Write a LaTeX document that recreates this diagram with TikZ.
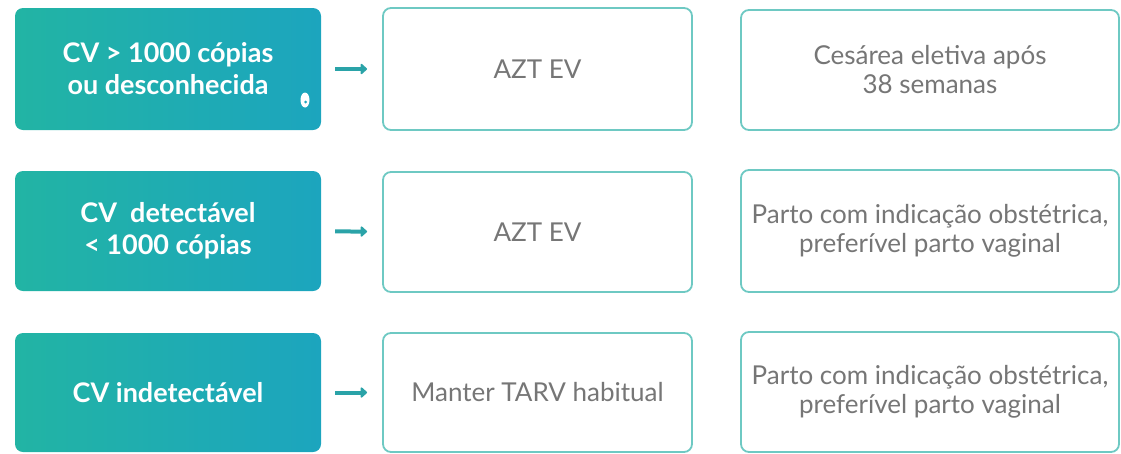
\documentclass[tikz,border=0pt]{standalone}
\usepackage{fontspec}
\setmainfont{Lato}
\usetikzlibrary{arrows.meta}
\definecolor{tealL}{HTML}{22B4A4}
\definecolor{tealR}{HTML}{1CA5BE}
\definecolor{boxline}{HTML}{6EC9C3}
\definecolor{txtgray}{HTML}{767676}
\definecolor{arrowc}{HTML}{2AA3A8}
\tikzset{
  condbox/.style={rounded corners=8pt, left color=tealL, right color=tealR,
    minimum width=306pt, minimum height=#1, inner sep=0pt, text=white,
    font=\fontsize{27}{32}\selectfont\bfseries, align=center},
  actbox/.style={rounded corners=8pt, draw=boxline, line width=1.8pt, fill=white,
    minimum height=#1, inner sep=0pt, text=txtgray,
    font=\fontsize{26}{29}\selectfont, align=center},
  flowarrow/.style={draw=arrowc, line width=4pt, -{Triangle[length=7pt,width=12pt,round]},
    shorten <=14pt, shorten >=15pt}
}
\begin{document}
\begin{tikzpicture}[x=1pt,y=-1pt]
\useasboundingbox (0,0) rectangle (1121,453);
% row 1
\node[condbox=122pt] (l1) at (168,69) {CV > 1000 cópias\\ou desconhecida};
\node[actbox=122pt, minimum width=309pt] (m1) at (537.5,69) {AZT EV};
\node[actbox=120pt, minimum width=378pt] (r1) at (930,70) {Cesárea eletiva após\\38 semanas};
% row 2
\node[condbox=120pt] (l2) at (168,231) {CV\ \ detectável\\< 1000 cópias};
\node[actbox=120pt, minimum width=309pt] (m2) at (537.5,232) {AZT EV};
\node[actbox=122pt, minimum width=378pt] (r2) at (930,231) {Parto com indicação obstétrica,\\preferível parto vaginal};
% row 3
\node[condbox=119pt] (l3) at (168,392.5) {CV indetectável};
\node[actbox=119pt, minimum width=309pt] (m3) at (537.5,392.5) {Manter TARV habitual};
\node[actbox=120pt, minimum width=378pt] (r3) at (930,392) {Parto com indicação obstétrica,\\preferível parto vaginal};
% arrows
\draw[flowarrow] (l1) -- (m1);
\draw[flowarrow] (l2) -- (m2);
\draw[flowarrow] (l3) -- (m3);
% small icon in first box
\fill[white] (305,100) ellipse (4.5pt and 7.5pt);
\fill[tealR] (305.5,102) circle (1.5pt);
\end{tikzpicture}
\end{document}
